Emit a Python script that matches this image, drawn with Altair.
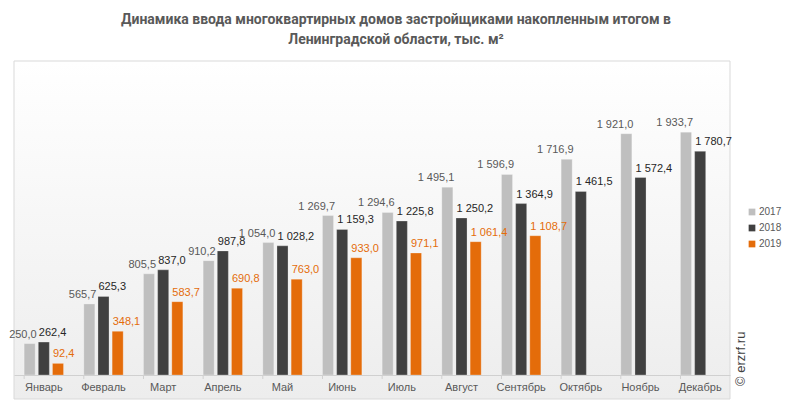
import altair as alt
import pandas as pd

months = ["Январь", "Февраль", "Март", "Апрель", "Май", "Июнь", "Июль",
          "Август", "Сентябрь", "Октябрь", "Ноябрь", "Декабрь"]
years = ["2017", "2018", "2019"]
v2017 = [250.0, 565.7, 805.5, 910.2, 1054.0, 1269.7, 1294.6, 1495.1, 1596.9, 1716.9, 1921.0, 1933.7]
v2018 = [262.4, 625.3, 837.0, 987.8, 1028.2, 1159.3, 1225.8, 1250.2, 1364.9, 1461.5, 1572.4, 1780.7]
v2019 = [92.4, 348.1, 583.7, 690.8, 763.0, 933.0, 971.1, 1061.4, 1108.7]

colors = ["#BFBFBF", "#404040", "#E46C0A"]
label_colors = ["#595959", "#262626", "#E46C0A"]


def ru(v):
    return f"{v:,.1f}".replace(",", " ").replace(".", ",")


rows = []
for y, vals in zip(years, [v2017, v2018, v2019]):
    for m, v in zip(months, vals):
        rows.append({"month": m, "year": y, "value": v, "label": ru(v)})
df = pd.DataFrame(rows)

W, H = 716, 314
FONT = "Liberation Sans"

x_enc = alt.X("month:N", sort=months, scale=alt.Scale(paddingInner=0.34, paddingOuter=0.17),
              axis=alt.Axis(title=None, labelFont=FONT, labelFontSize=11, labelColor="#595959",
                            domainColor="#D0D0D0", ticks=False, labelPadding=6, labelAngle=0,
                            zindex=1))
xo_enc = alt.XOffset("year:N", sort=years, scale=alt.Scale(paddingInner=0.22))
y_enc = alt.Y("value:Q", scale=alt.Scale(domain=[0, 2500]), axis=None)

bg = alt.Chart(pd.DataFrame({"a": [0]})).mark_rect(
    fill=alt.LinearGradient(gradient="linear",
                            stops=[alt.GradientStop(color="#FFFFFF", offset=0),
                                   alt.GradientStop(color="#EDEDED", offset=1)],
                            x1=0, x2=0, y1=0, y2=1),
    stroke="#D9D9D9", strokeWidth=1
).encode(x=alt.value(0), x2=alt.value(W), y=alt.value(0), y2=alt.value(H + 24))

bars = alt.Chart(df).mark_bar(stroke="#FFFFFF", strokeOpacity=0.5, strokeWidth=0.5).encode(
    x=x_enc, xOffset=xo_enc, y=y_enc,
    color=alt.Color("year:N", sort=years,
                    scale=alt.Scale(domain=years, range=colors),
                    legend=alt.Legend(title=None, orient="none", legendX=W + 17, legendY=146,
                                      symbolType="square", symbolSize=45, symbolStrokeWidth=0,
                                      labelFont=FONT, labelFontSize=10, labelColor="#595959",
                                      rowPadding=6, labelOffset=2))
)

texts = []
for y, dx, al, lc in zip(years, [7, -5, -5], ["right", "left", "left"], label_colors):
    t = alt.Chart(df[df.year == y]).mark_text(
        font=FONT, fontSize=11, color=lc, baseline="bottom", dy=-4, dx=dx, align=al
    ).encode(x=x_enc, xOffset=xo_enc, y=y_enc, text="label:N")
    texts.append(t)

ticks = alt.Chart(pd.DataFrame({"month": months})).mark_rule(color="#D0D0D0").encode(
    x=alt.X("month:N", sort=months, bandPosition=0), y=alt.value(H), y2=alt.value(H + 4)
)

wm = alt.Chart(pd.DataFrame({"t": ["© erzrf.ru"]})).mark_text(
    angle=270, font=FONT, fontSize=13, color="#404040", align="left", baseline="middle"
).encode(x=alt.value(W + 11), y=alt.value(H + 11), text="t:N")

chart = alt.layer(bg, bars, *texts, ticks, wm).properties(
    width=W, height=H,
    title=alt.TitleParams(
        text=["Динамика ввода многоквартирных домов застройщиками накопленным итогом в",
              "Ленинградской области, тыс. м²"],
        anchor="middle", dx=24, offset=14, font="Roboto", fontSize=14,
        fontWeight="bold", color="#595959", lineHeight=20),
    padding={"left": 14, "top": 61, "right": 63, "bottom": 40},
    autosize=alt.AutoSizeParams(type="none"),
).configure_view(stroke=None)

chart.save("out.html", embed_options={"renderer": "svg", "actions": False})
